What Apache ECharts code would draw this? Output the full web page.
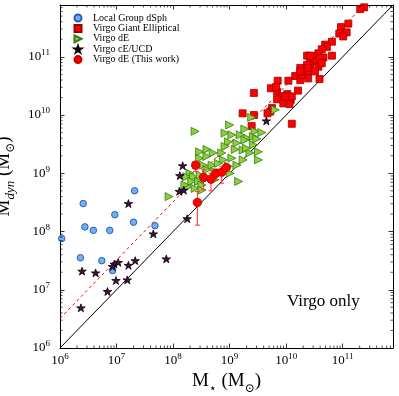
<!DOCTYPE html>
<html><head><meta charset="utf-8">
<script src="https://cdn.jsdelivr.net/npm/echarts@6/dist/echarts.min.js"></script>
<style>html,body{margin:0;padding:0;background:#fff}#c{width:399px;height:396px}</style>
</head><body><div id="c"></div>
<script>
// ---- axis range (log10 of solar masses) ----
const axisMinLog = 6;
const axisMaxLog = 11.89;
const majorExponents = [6, 7, 8, 9, 10, 11];
const minorMultipliers = [2, 3, 4, 5, 6, 7, 8, 9];

// ---- data: [log10 M_star, log10 M_dyn] ----
const localGroupDSph = [
  [7.32,8.70],[6.41,8.48],[6.97,8.29],[6.44,8.08],[6.59,8.02],[6.88,8.02],
  [7.30,8.16],[7.68,8.10],[6.03,7.88],[6.36,7.55],[6.74,7.50],[6.93,7.33]
];
const virgoGiantElliptical = [
  [11.38,11.85],[11.31,11.82],[11.10,11.57],[10.97,11.51],[11.07,11.42],[10.94,11.40],
  [11.01,11.35],[10.81,11.26],[10.69,11.21],[10.72,11.17],[10.63,11.13],[10.57,11.06],
  [10.37,11.02],[10.47,11.01],[10.66,10.99],[10.81,11.02],[10.42,10.89],[10.51,10.92],
  [10.57,10.83],[10.25,10.81],[10.16,10.67],[10.37,10.72],[10.59,10.62],[9.85,10.59],
  [10.04,10.59],[10.25,10.60],[9.43,10.38],[9.73,10.46],[9.84,10.40],[10.02,10.36],
  [10.21,10.42],[9.92,10.32],[9.84,10.27],[10.08,10.26],[9.95,10.20],[10.06,10.19],
  [9.75,10.12],[9.72,10.06],[9.23,10.03],[9.43,10.00],[9.39,9.81],[10.10,9.85],
  [10.42,10.86],[10.28,10.69],[10.39,10.63],[9.82,10.48],[9.98,10.32],[10.10,10.32],
  [9.67,10.03],[10.42,11.02],[10.60,10.98],[10.63,10.89],[10.37,10.86],[10.39,10.81],
  [10.51,10.75],[10.25,10.75]
];
const virgoDE = [
  [8.39,9.72],[9.00,9.83],[8.92,9.69],[9.04,9.66],[9.19,9.66],[9.32,9.60],[8.98,9.54],
  [9.13,9.52],[9.42,9.49],[9.10,9.41],[9.24,9.40],[9.51,9.37],[8.47,9.37],[8.71,9.35],
  [8.86,9.35],[8.47,9.26],[8.60,9.29],[9.36,9.35],[8.89,9.23],[9.04,9.26],[9.24,9.23],
  [9.51,9.23],[8.42,9.14],[8.54,9.14],[8.69,9.14],[8.80,9.17],[8.98,9.12],[9.13,9.14],
  [8.60,9.06],[8.74,9.03],[9.01,9.00],[8.30,9.00],[8.24,8.94],[8.36,8.94],[8.48,8.97],
  [8.33,8.86],[8.45,8.86],[8.27,8.77],[8.39,8.74],[8.51,8.80],[8.21,8.80],[9.16,8.86],
  [8.74,8.89],[7.93,8.60],[8.51,8.71],[9.81,10.09],[9.39,9.96],[9.27,9.76],[9.45,9.72],
  [9.57,9.70],[9.42,9.63],[9.27,9.57],[9.48,9.59],[8.60,9.41],[8.92,9.46],[9.30,9.43],
  [8.57,8.90]
];
const virgoCEUCD = [
  [8.11,8.69],[8.19,8.71],[7.21,8.48],[7.65,7.96],[6.39,7.32],[6.63,7.29],[6.96,7.44],
  [6.93,7.40],[7.03,7.47],[7.21,7.42],[7.33,7.50],[7.88,7.53],[6.99,7.16],[7.19,7.17],
  [6.84,6.97],[6.37,6.69],[8.17,9.13],[8.12,8.96],[8.25,8.22],[9.65,9.90]
];
const virgoDEThisWork = [
  [8.40,9.14],[8.54,8.93],[8.67,8.90],[8.76,9.00],[8.86,9.02],[8.94,9.10],[8.43,8.50]
];
// error bar ends (log10 M_dyn): [low, high]
const thisWorkErrors = [
  [9.03,9.20],[8.72,9.06],[8.70,9.00],[8.89,9.07],[8.83,9.12],[9.04,9.15],[8.11,8.69]
];
// reference relations: [x0, y0, x1, y1] in log10
const oneToOneLine = [6, 6, 11.89, 11.89];
const dashedLine = [6, 6.51, 11.38, 11.89];

const seriesNames = ['Local Group dSph','Virgo Giant Elliptical','Virgo dE','Virgo cE/UCD','Virgo dE (This work)'];

// ---- helpers ----
const P = v => Math.pow(10, v);
const toLin = arr => arr.map(p => [P(p[0]), P(p[1])]);
const MIN = P(axisMinLog), MAX = P(axisMaxLog);
const FONT = '"Liberation Serif", "DejaVu Serif", serif';

const minorTicks = [];
majorExponents.forEach(e => minorMultipliers.forEach(k => {
  const v = k * P(e);
  if (v < MAX) minorTicks.push([v, v]);
}));

const starPath = 'path://M50,0 L61.8,35.3 L100,35.3 L69.1,57.1 L80.9,92.7 L50,70.5 L19.1,92.7 L30.9,57.1 L0,35.3 L38.2,35.3 Z';
const triRightPath = 'path://M0,0 L100,50 L0,100 Z';

function tickLabel(v) {
  const l = Math.log10(v);
  const e = Math.round(l);
  if (Math.abs(l - e) > 1e-6) return '';
  return '{b|10}{s|' + e + '}';
}
const tickRich = {
  b: { fontFamily: FONT, fontSize: 13, lineHeight: 17, color: '#000', verticalAlign: 'middle' },
  s: { fontFamily: FONT, fontSize: 9, lineHeight: 9, color: '#000', verticalAlign: 'top' }
};
const nameRich = {
  m: { fontFamily: FONT, fontSize: 19, lineHeight: 26, color: '#000', verticalAlign: 'middle' },
  sub: { fontFamily: FONT, fontSize: 12, lineHeight: 12, color: '#000', verticalAlign: 'bottom' },
  subi: { fontFamily: FONT, fontSize: 13, lineHeight: 12, fontStyle: 'italic', color: '#000', verticalAlign: 'bottom' }
};

function mkAxis(pos, isX, main) {
  return {
    type: 'log', logBase: 10, min: MIN, max: MAX, position: pos,
    gridIndex: 0,
    axisLine: { show: true, onZero: false, lineStyle: { color: '#000', width: 1 } },
    axisTick: { show: true, inside: true, length: 4.5, lineStyle: { color: '#000', width: 0.8 } },
    minorTick: { show: false },
    splitLine: { show: false },
    axisLabel: main ? {
      show: true, formatter: tickLabel, rich: tickRich, margin: isX ? 4 : 10,
      showMinLabel: true, showMaxLabel: true, hideOverlap: false
    } : { show: false },
    name: main ? (isX ? '{m|M}{sub|⋆}{m| (M}{sub|⊙}{m|)}' : '{m|M}{subi|dyn}{m| (M}{sub|⊙}{m|)}') : '',
    nameLocation: 'middle',
    nameGap: isX ? 14 : 27,
    nameTextStyle: { rich: nameRich }
  };
}

const chart = echarts.init(document.getElementById('c'), null, { renderer: 'canvas' });
chart.setOption({
  animation: false,
  backgroundColor: '#fff',
  grid: { left: 60, top: 5, width: 333, height: 343, containLabel: false, outerBoundsMode: 'none' },
  xAxis: [mkAxis('bottom', true, true), mkAxis('top', true, false)],
  yAxis: [mkAxis('left', false, true), mkAxis('right', false, false)],
  legend: {
    data: seriesNames, orient: 'vertical', left: 73.5, top: 13, padding: 0,
    itemWidth: 7, itemHeight: 7, itemGap: 0.4, selectedMode: false,
    textStyle: { fontFamily: FONT, fontSize: 10, lineHeight: 10, color: '#000', padding: [0, 0, 0, 6.5] }
  },
  graphic: [{
    type: 'text', left: 287, top: 293,
    style: { text: 'Virgo only', font: '17px ' + FONT, fill: '#000' }
  }],
  series: [
    {
      type: 'line', name: 'one-to-one', silent: true, symbol: 'none',
      data: [[P(oneToOneLine[0]), P(oneToOneLine[1])], [P(oneToOneLine[2]), P(oneToOneLine[3])]],
      lineStyle: { color: '#000', width: 1 }, z: 1
    },
    {
      type: 'line', name: 'offset', silent: true, symbol: 'none',
      data: [[P(dashedLine[0]), P(dashedLine[1])], [P(dashedLine[2]), P(dashedLine[3])]],
      lineStyle: { color: '#ff0000', width: 1, type: [3, 3] }, z: 1
    },
    {
      type: 'custom', name: 'minor ticks', silent: true, data: minorTicks,
      encode: { x: 0, y: 1 }, z: 5,
      renderItem(params, api) {
        const v = api.value(0);
        const cs = params.coordSys;
        const px = api.coord([v, MIN])[0];
        const py = api.coord([MIN, v])[1];
        const L = 2.5;
        const st = { stroke: '#000', lineWidth: 0.7 };
        return { type: 'group', children: [
          { type: 'line', shape: { x1: px, y1: cs.y + cs.height, x2: px, y2: cs.y + cs.height - L }, style: st },
          { type: 'line', shape: { x1: px, y1: cs.y, x2: px, y2: cs.y + L }, style: st },
          { type: 'line', shape: { x1: cs.x, y1: py, x2: cs.x + L, y2: py }, style: st },
          { type: 'line', shape: { x1: cs.x + cs.width, y1: py, x2: cs.x + cs.width - L, y2: py }, style: st }
        ]};
      }
    },
    {
      type: 'scatter', name: seriesNames[0], data: toLin(localGroupDSph),
      symbol: 'circle', symbolSize: 6.5,
      itemStyle: { color: '#6fb2ec', borderColor: '#2a5bbf', borderWidth: 1, opacity: 1 }, z: 2
    },
    {
      type: 'scatter', name: seriesNames[1], data: toLin(virgoGiantElliptical),
      symbol: 'rect', symbolSize: 7,
      itemStyle: { color: '#ff0000', borderColor: '#a00000', borderWidth: 0.8, opacity: 1 }, z: 2
    },
    {
      type: 'scatter', name: seriesNames[2], data: toLin(virgoDE),
      symbol: triRightPath, symbolSize: 8, symbolKeepAspect: true,
      itemStyle: { color: '#8fcf3c', borderColor: '#2f7d12', borderWidth: 0.8, opacity: 1 }, z: 2
    },
    {
      type: 'scatter', name: seriesNames[3], data: toLin(virgoCEUCD),
      symbol: starPath, symbolSize: 8.5, symbolKeepAspect: true,
      itemStyle: { color: '#4c0a4a', borderColor: '#000', borderWidth: 0.8, opacity: 1 }, z: 2
    },
    {
      type: 'custom', name: 'error bars', silent: true,
      data: virgoDEThisWork.map((p, i) => [P(p[0]), P(p[1]), P(thisWorkErrors[i][0]), P(thisWorkErrors[i][1])]),
      encode: { x: 0, y: 1 }, z: 3,
      renderItem(params, api) {
        const lo = api.coord([api.value(0), api.value(2)]);
        const hi = api.coord([api.value(0), api.value(3)]);
        const c = 2.5;
        const st = { stroke: '#ff3030', lineWidth: 1 };
        return { type: 'group', children: [
          { type: 'line', shape: { x1: lo[0], y1: lo[1], x2: hi[0], y2: hi[1] }, style: st },
          { type: 'line', shape: { x1: lo[0] - c, y1: lo[1], x2: lo[0] + c, y2: lo[1] }, style: st },
          { type: 'line', shape: { x1: hi[0] - c, y1: hi[1], x2: hi[0] + c, y2: hi[1] }, style: st }
        ]};
      }
    },
    {
      type: 'scatter', name: seriesNames[4], data: toLin(virgoDEThisWork),
      symbol: 'circle', symbolSize: 8.5,
      itemStyle: { color: '#ff0000', borderColor: '#c00000', borderWidth: 0.8, opacity: 1 }, z: 4
    }
  ]
});
</script>
</body></html>
